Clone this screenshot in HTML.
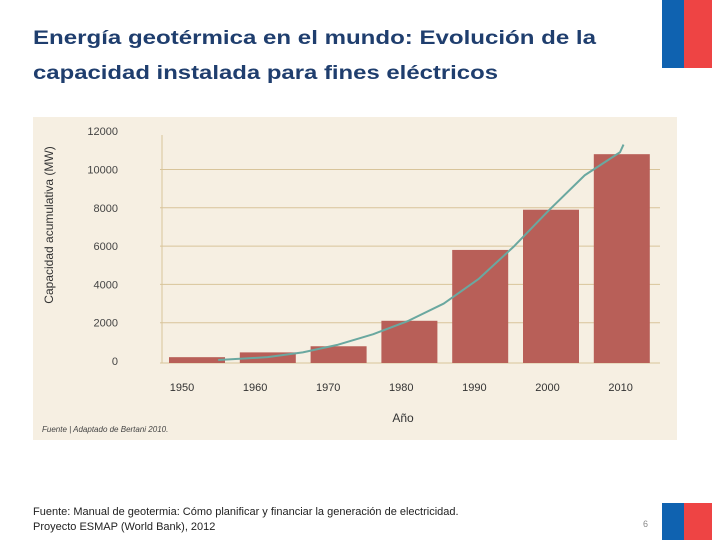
<!DOCTYPE html>
<html><head><meta charset="utf-8"><style>
body{margin:0;width:720px;height:540px;background:#fff;overflow:hidden;font-family:"Liberation Sans",sans-serif}
</style></head><body>
<svg width="720" height="540" xmlns="http://www.w3.org/2000/svg">
<text x="33" y="44" font-size="19" font-weight="bold" fill="#1f3e6e" textLength="563" lengthAdjust="spacingAndGlyphs">Energía geotérmica en el mundo: Evolución de la</text>
<text x="33" y="79" font-size="19" font-weight="bold" fill="#1f3e6e" textLength="465" lengthAdjust="spacingAndGlyphs">capacidad instalada para fines eléctricos</text>
<g><rect x="662" y="0" width="22" height="68" fill="#0f62b0"/><rect x="684" y="0" width="28" height="68" fill="#ee4444"/></g>
<g><rect x="662" y="503" width="22" height="37" fill="#0f62b0"/><rect x="684" y="503" width="28" height="37" fill="#ee4444"/></g>
<rect x="33" y="117" width="644" height="323" fill="#f6efe2"/>
<g id="chart"></g>
<text x="33" y="515" font-size="11" fill="#222">Fuente: Manual de geotermia: Cómo planificar y financiar la generación de electricidad.</text>
<text x="33" y="530" font-size="11" fill="#222">Proyecto ESMAP (World Bank), 2012</text>
<text x="643" y="527" font-size="9" fill="#888">6</text>
</svg>
<script>
const categories=["1950","1960","1970","1980","1990","2000","2010"];
const values=[200,450,770,2100,5800,7900,10800];
const yTicks=[0,2000,4000,6000,8000,10000,12000];
const curveYears=[1953,1960,1965,1970,1975,1980,1985,1990,1995,2000,2005,2010,2010.5];
const curveVals=[50,200,450,850,1400,2100,3000,4300,6000,7900,9700,10900,11300];
const NS="http://www.w3.org/2000/svg";
const g=document.getElementById('chart');
const y=v=>361-v*0.01915;
const bx=i=>169+i*70.8;
const cx=yr=>197+(yr-1950)*7.05;
function mk(t,a){const e=document.createElementNS(NS,t);for(const k in a)e.setAttribute(k,a[k]);g.appendChild(e);return e;}
yTicks.forEach(t=>{
 if(t>0&&t<12000){const l=mk('line',{x1:160,x2:660,y1:y(t),y2:y(t),stroke:'#d8c49a','stroke-width':1});
 
 }
 const tx=mk('text',{x:118,y:y(t)+4,'font-size':11,fill:'#444','text-anchor':'end'});tx.textContent=t;
 
 
});
const ax=mk('line',{x1:162,x2:162,y1:135,y2:363,stroke:'#d8c49a'});


const bl=mk('line',{x1:160,x2:660,y1:363,y2:363,stroke:'#d8c49a'});


categories.forEach((c,i)=>{
 const r=mk('rect',{x:bx(i),y:y(values[i]),width:56,height:363-y(values[i]),fill:'#b85f58'});
 
 
 const t=mk('text',{x:bx(i)+13+i*2.3,y:391,'font-size':11,fill:'#333','text-anchor':'middle'});t.textContent=c;
 
 
});
const pts=curveYears.map((yr,i)=>cx(yr)+','+y(curveVals[i])).join(' ');
const pl=mk('polyline',{points:pts,fill:'none',stroke:'#6aa8a0','stroke-width':2,'stroke-linejoin':'round'});


const xt=mk('text',{x:403,y:422,'font-size':12,fill:'#333','text-anchor':'middle'});xt.textContent='Año';


const yt=mk('text',{x:0,y:0,'font-size':12,fill:'#333','text-anchor':'middle',transform:'translate(53,225) rotate(-90)'});yt.textContent='Capacidad acumulativa (MW)';


const src=mk('text',{x:42,y:432,'font-size':8,fill:'#444','font-style':'italic'});src.textContent='Fuente | Adaptado de Bertani 2010.';


</script>
</body></html>
